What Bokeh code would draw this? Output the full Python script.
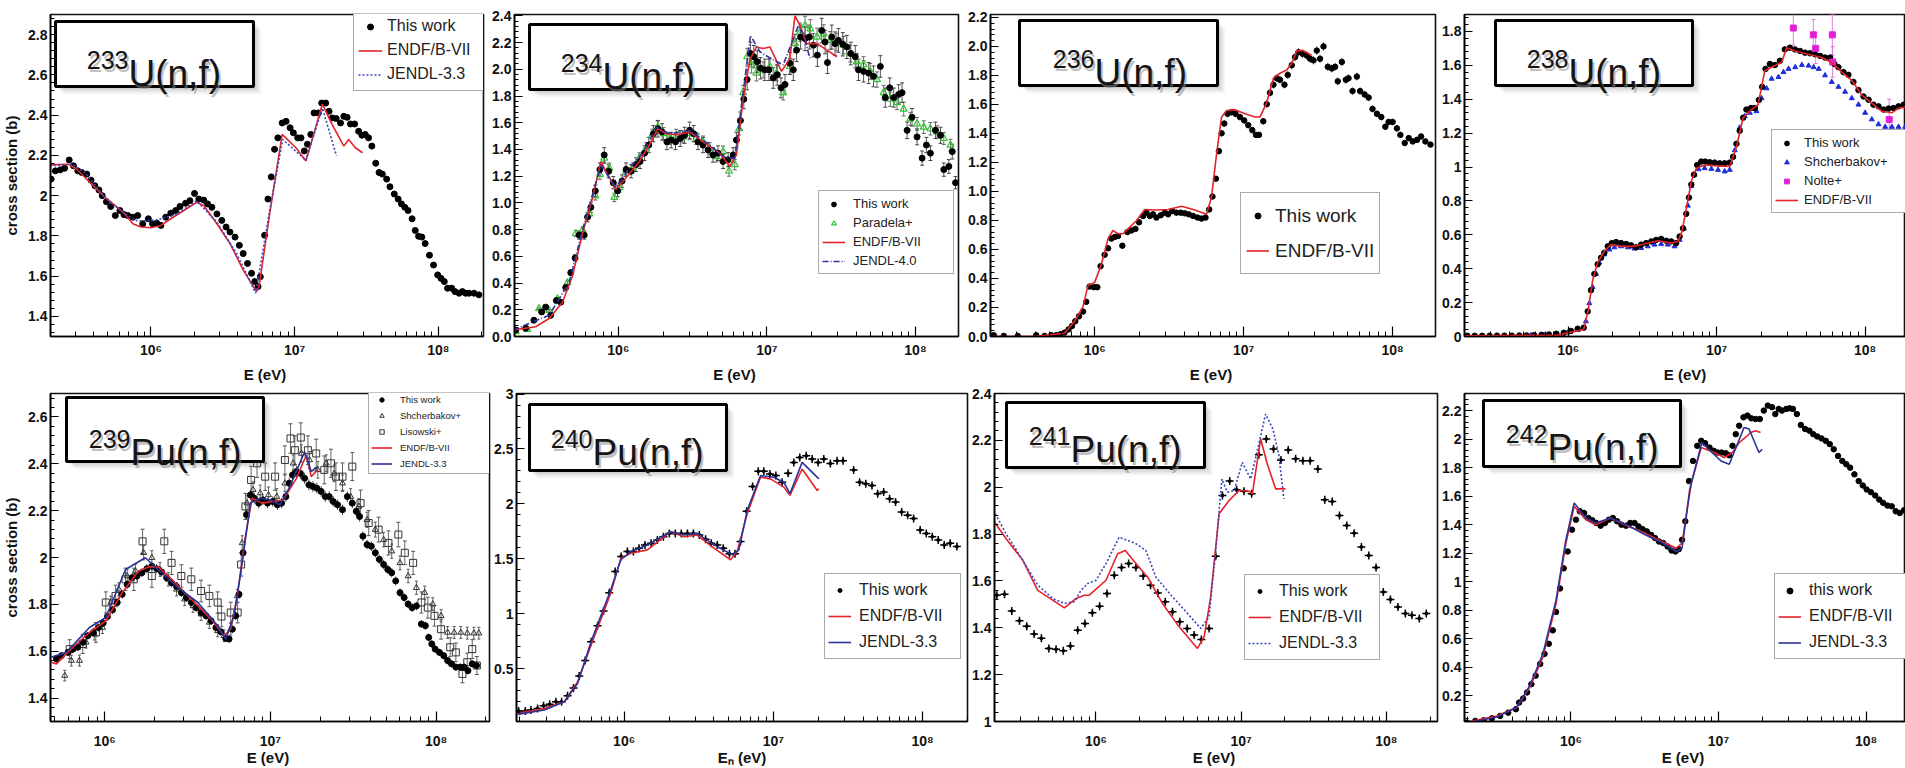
import numpy as np
from bokeh.plotting import figure
from bokeh.models import (ColumnDataSource, Range1d, FixedTicker, CustomJSTickFormatter,
                          Legend, LegendItem, BoxAnnotation, Label, Whisker, TeeHead)
from bokeh.layouts import row, column
from bokeh.embed import file_html
from bokeh.resources import INLINE

# ---------------- data: log10(E / eV) and cross sections (barn) ----------------
# 233U(n,f)
u233_lg = [5.305,5.335,5.369,5.399,5.431,5.461,5.491,5.518,5.553,5.583,5.610,5.638,5.661,5.690,5.720,5.752,5.784,5.812,5.839,5.874,
           5.908,5.943,5.982,6.011,6.041,6.069,6.103,6.138,6.172,6.202,6.241,6.271,6.303,6.333,6.367,6.394,6.424,6.459,6.493,6.523,
           6.550,6.585,6.615,6.642,6.672,6.700,6.722,6.745,6.761,6.791,6.814,6.837,6.860,6.883,6.913,6.940,6.968,6.991,7.021,7.044,
           7.067,7.089,7.112,7.135,7.165,7.188,7.216,7.239,7.261,7.289,7.319,7.342,7.365,7.388,7.417,7.445,7.468,7.491,7.514,7.537,
           7.564,7.587,7.610,7.640,7.663,7.693,7.720,7.743,7.766,7.789,7.817,7.839,7.862,7.885,7.908,7.938,7.966,7.995,8.018,8.041,
           8.064,8.092,8.115,8.144,8.167,8.190,8.213,8.248,8.282]
u233_xs = [2.082,2.123,2.128,2.136,2.177,2.148,2.123,2.115,2.107,2.077,2.049,2.028,2.000,1.970,1.946,1.901,1.926,1.906,1.901,1.893,
           1.901,1.860,1.885,1.860,1.863,1.852,1.893,1.913,1.926,1.946,1.962,1.975,2.011,1.983,1.978,1.959,1.942,1.909,1.877,1.844,
           1.819,1.794,1.753,1.712,1.663,1.614,1.573,1.548,1.597,1.803,1.983,2.093,2.230,2.287,2.361,2.369,2.337,2.312,2.287,2.287,
           2.222,2.255,2.304,2.411,2.411,2.460,2.460,2.419,2.386,2.383,2.361,2.394,2.389,2.356,2.356,2.320,2.300,2.304,2.287,2.246,
           2.161,2.115,2.107,2.082,2.044,2.008,1.983,1.959,1.942,1.926,1.885,1.827,1.798,1.794,1.762,1.704,1.655,1.606,1.589,1.573,
           1.540,1.540,1.523,1.515,1.523,1.515,1.515,1.515,1.507]
u233_endf_lg = [5.296,5.427,5.484,5.541,5.610,5.679,5.748,5.817,5.874,5.931,6.000,6.069,6.138,6.229,6.317,6.367,6.459,6.550,6.642,6.734,
                6.752,6.826,6.913,7.009,7.078,7.193,7.261,7.342,7.376,7.422,7.472]
u233_endf_xs = [2.153,2.156,2.131,2.090,2.041,1.992,1.951,1.910,1.860,1.844,1.840,1.852,1.885,1.926,1.967,1.951,1.860,1.762,1.630,1.523,
                1.548,1.909,2.304,2.238,2.172,2.455,2.353,2.246,2.279,2.238,2.213]
u233_jendl_lg = [5.296,5.450,5.541,5.679,5.817,5.908,6.046,6.183,6.317,6.459,6.596,6.729,6.826,6.917,7.078,7.193,7.291]
u233_jendl_xs = [2.148,2.156,2.115,1.992,1.910,1.873,1.880,1.909,1.975,1.868,1.712,1.515,1.926,2.279,2.176,2.435,2.197]

# 234U(n,f)
u234_lg = [5.309,5.376,5.432,5.484,5.511,5.545,5.583,5.613,5.646,5.680,5.709,5.736,5.770,5.793,5.815,5.845,5.876,5.905,5.935,5.966,
           5.995,6.025,6.052,6.086,6.119,6.146,6.176,6.205,6.236,6.266,6.295,6.327,6.356,6.385,6.417,6.446,6.480,6.507,6.536,6.570,
           6.604,6.637,6.671,6.705,6.739,6.773,6.795,6.822,6.845,6.867,6.890,6.912,6.935,6.957,6.986,7.014,7.043,7.070,7.095,7.122,
           7.155,7.178,7.200,7.227,7.257,7.286,7.313,7.340,7.369,7.392,7.408,7.437,7.459,7.482,7.511,7.538,7.565,7.595,7.617,7.651,
           7.685,7.718,7.764,7.797,7.827,7.854,7.887,7.910,7.944,7.977,8.011,8.045,8.074,8.101,8.135,8.169,8.191,8.225,8.248,8.270]
u234_xs = [0.049,0.061,0.122,0.184,0.220,0.159,0.269,0.257,0.367,0.478,0.588,0.759,0.759,0.894,0.967,1.090,1.249,1.359,1.237,1.151,
           1.090,1.163,1.249,1.237,1.286,1.310,1.372,1.433,1.518,1.555,1.531,1.457,1.470,1.457,1.482,1.506,1.543,1.518,1.457,1.433,
           1.396,1.359,1.372,1.310,1.323,1.359,1.470,1.616,1.776,1.923,2.118,2.094,2.057,2.008,1.996,1.996,1.935,1.959,1.861,1.886,
           2.045,1.996,2.143,2.241,2.229,2.241,2.180,2.106,2.290,2.204,2.050,2.241,2.192,2.216,2.187,2.167,2.118,2.094,1.996,1.984,
           1.972,1.947,2.021,1.788,1.861,1.788,1.812,1.825,1.543,1.641,1.494,1.335,1.433,1.372,1.543,1.506,1.249,1.273,1.384,1.151]
u234_rel_err = 0.04
u234_par_lg = [5.309,5.388,5.466,5.534,5.590,5.658,5.714,5.759,5.804,5.845,5.876,5.905,5.939,5.973,6.007,6.052,6.097,6.142,6.187,6.227,
               6.266,6.304,6.345,6.390,6.435,6.480,6.525,6.570,6.615,6.660,6.705,6.745,6.784,6.813,6.840,6.867,6.896,6.930,6.975,7.020,
               7.065,7.110,7.155,7.189,7.223,7.257,7.293,7.338,7.383,7.426,7.471,7.516,7.561,7.606,7.651,7.696,7.741,7.786,7.831,7.876,
               7.921,7.966,8.011,8.056,8.101,8.146,8.191,8.236]
u234_par_xs = [0.037,0.054,0.208,0.196,0.282,0.404,0.771,0.796,0.918,1.053,1.212,1.335,1.261,1.041,1.114,1.237,1.261,1.335,1.408,1.506,
               1.567,1.518,1.482,1.506,1.494,1.518,1.482,1.457,1.408,1.347,1.384,1.237,1.286,1.555,1.825,2.094,2.033,1.972,1.996,2.021,
               1.972,1.825,2.021,2.192,2.278,2.327,2.302,2.241,2.265,2.216,2.204,2.180,2.118,2.057,2.033,1.984,1.923,1.825,1.776,1.751,
               1.702,1.629,1.592,1.567,1.555,1.531,1.482,1.433]
u234_par_rel_err = 0.03
u234_endf_lg = [5.293,5.444,5.534,5.624,5.691,5.759,5.827,5.883,5.921,5.984,6.052,6.142,6.209,6.266,6.322,6.401,6.480,6.570,6.682,6.750,
                6.795,6.840,6.885,6.930,6.975,7.020,7.099,7.155,7.189,7.223,7.268,7.338,7.405,7.471]
u234_endf_xs = [0.049,0.073,0.135,0.257,0.453,0.771,1.041,1.310,1.225,1.102,1.188,1.310,1.433,1.555,1.518,1.511,1.531,1.457,1.372,1.274,
                1.359,1.776,2.070,2.167,2.155,2.167,1.984,2.082,2.400,2.327,2.192,2.192,2.143,2.094]
u234_jendl_lg = [5.293,5.534,5.669,5.759,5.883,5.939,5.984,6.074,6.164,6.255,6.345,6.480,6.615,6.727,6.784,6.840,6.890,6.953,7.043,7.110,
                 7.166,7.212,7.245,7.290]
u234_jendl_xs = [0.049,0.159,0.404,0.796,1.286,1.188,1.114,1.261,1.372,1.567,1.518,1.543,1.433,1.335,1.335,1.825,2.253,2.131,2.070,2.033,
                 2.192,2.327,2.265,2.082]

# 236U(n,f)
u236_lg = [5.323,5.390,5.484,5.608,5.664,5.709,5.742,5.771,5.798,5.825,5.848,5.870,5.895,5.922,5.944,5.966,5.996,6.018,6.040,6.067,
           6.090,6.112,6.135,6.157,6.186,6.220,6.247,6.274,6.298,6.325,6.348,6.370,6.392,6.415,6.444,6.471,6.493,6.520,6.549,6.578,
           6.605,6.632,6.661,6.691,6.717,6.744,6.769,6.791,6.814,6.834,6.852,6.870,6.892,6.919,6.946,6.975,7.004,7.031,7.058,7.083,
           7.103,7.132,7.155,7.177,7.200,7.222,7.244,7.274,7.296,7.323,7.345,7.368,7.395,7.424,7.446,7.469,7.491,7.513,7.536,7.565,
           7.592,7.614,7.632,7.659,7.686,7.704,7.731,7.760,7.782,7.812,7.839,7.865,7.895,7.924,7.951,7.973,8.000,8.029,8.052,8.081,
           8.108,8.135,8.164,8.191,8.220,8.254]
u236_xs = [0.009,0.004,0.004,0.009,0.004,0.009,0.009,0.016,0.027,0.049,0.072,0.105,0.139,0.172,0.239,0.344,0.340,0.340,0.485,0.563,
           0.608,0.675,0.686,0.693,0.626,0.720,0.731,0.742,0.787,0.831,0.854,0.831,0.842,0.820,0.836,0.854,0.842,0.865,0.854,0.854,
           0.849,0.842,0.831,0.820,0.813,0.820,0.876,0.965,1.088,1.278,1.401,1.468,1.535,1.546,1.535,1.513,1.490,1.457,1.423,1.390,
           1.390,1.484,1.602,1.680,1.736,1.781,1.770,1.736,1.803,1.870,1.926,1.960,1.949,1.937,1.915,1.904,1.971,1.915,2.000,1.859,
           1.848,1.859,1.759,1.893,1.770,1.781,1.692,1.792,1.692,1.669,1.647,1.569,1.535,1.513,1.446,1.479,1.479,1.435,1.390,1.334,
           1.368,1.345,1.356,1.379,1.345,1.323]
u236_rel_err = 0.015
u236_endf_lg = [5.294,5.596,5.798,5.865,5.922,5.955,6.000,6.045,6.090,6.123,6.157,6.191,6.224,6.280,6.336,6.404,6.493,6.583,6.673,6.751,
                6.785,6.818,6.852,6.886,6.942,7.009,7.076,7.110,7.155,7.200,7.244,7.289,7.323,7.357,7.401,7.457]
u236_endf_xs = [0.000,0.000,0.022,0.105,0.206,0.351,0.373,0.496,0.675,0.731,0.708,0.708,0.742,0.798,0.876,0.872,0.876,0.898,0.872,0.842,
                0.965,1.256,1.513,1.558,1.564,1.535,1.513,1.513,1.613,1.781,1.815,1.837,1.882,1.971,1.971,1.937]

# 238U(n,f)
u238_lg = [5.32,5.37,5.42,5.47,5.52,5.57,5.62,5.67,5.72,5.77,5.82,5.87,5.92,5.97,
           6.018,6.063,6.104,6.131,6.153,6.176,6.198,6.221,6.243,6.266,6.293,6.322,6.356,6.390,6.423,6.457,6.491,6.525,6.559,6.592,
           6.626,6.660,6.694,6.727,6.750,6.773,6.795,6.813,6.829,6.847,6.869,6.896,6.923,6.953,6.986,7.020,7.054,7.088,7.110,7.133,
           7.155,7.178,7.200,7.230,7.257,7.284,7.306,7.329,7.358,7.392,7.426,7.459,7.493,7.527,7.561,7.595,7.628,7.662,7.696,7.730,
           7.764,7.793,7.820,7.854,7.887,7.921,7.955,7.989,8.023,8.056,8.090,8.124,8.158,8.191,8.225,8.259]
u238_xs = [0.004,0.004,0.004,0.004,0.005,0.005,0.005,0.006,0.006,0.008,0.010,0.012,0.016,0.022,
           0.033,0.046,0.052,0.148,0.273,0.369,0.426,0.465,0.494,0.532,0.551,0.557,0.551,0.546,0.538,0.526,0.542,0.551,0.561,0.570,
           0.576,0.565,0.561,0.551,0.590,0.638,0.724,0.820,0.897,0.955,1.012,1.032,1.032,1.028,1.026,1.022,1.022,1.026,1.060,1.137,
           1.214,1.291,1.339,1.348,1.348,1.396,1.473,1.579,1.608,1.602,1.627,1.694,1.704,1.694,1.685,1.675,1.671,1.665,1.656,1.646,
           1.646,1.608,1.589,1.560,1.544,1.502,1.454,1.416,1.397,1.368,1.358,1.339,1.345,1.348,1.358,1.368]
u238_shch_lg = [5.748,5.838,5.928,5.995,6.063,6.119,6.142,6.164,6.187,6.209,6.243,6.277,6.311,6.356,6.401,6.446,6.491,6.536,6.581,6.626,
                6.671,6.716,6.750,6.779,6.806,6.829,6.851,6.878,6.919,6.964,7.009,7.054,7.088,7.122,7.155,7.189,7.223,7.268,7.302,7.336,
                7.370,7.416,7.450,7.484,7.529,7.574,7.619,7.653,7.687,7.730,7.775,7.820,7.865,7.910,7.955,8.000,8.045,8.090,8.135,8.180,
                8.225,8.270]
u238_shch_xs = [0.008,0.008,0.013,0.023,0.038,0.090,0.196,0.292,0.369,0.436,0.484,0.513,0.526,0.532,0.526,0.519,0.522,0.532,0.542,0.546,
                0.542,0.532,0.570,0.638,0.772,0.887,0.955,0.987,0.993,0.989,0.983,0.974,0.983,1.099,1.233,1.300,1.320,1.329,1.406,1.464,
                1.521,1.531,1.560,1.579,1.589,1.602,1.598,1.589,1.579,1.541,1.502,1.473,1.444,1.406,1.368,1.320,1.281,1.252,1.237,1.237,
                1.237,1.237]
u238_nolte_lg = [7.516,7.651,7.667,7.779,7.781,8.162]
u238_nolte_xs = [1.82,1.78,1.70,1.78,1.62,1.28]
u238_nolte_err = [0.10,0.09,0.09,0.12,0.09,0.12]
u238_endf_lg = [5.290,5.928,6.063,6.104,6.135,6.164,6.198,6.243,6.288,6.356,6.446,6.514,6.604,6.694,6.739,6.766,6.795,6.829,6.863,6.919,
                7.009,7.088,7.133,7.178,7.234,7.279,7.324,7.369,7.437,7.471,7.527,7.617,7.707,7.775,7.842,7.910,7.977,8.045,8.113,8.180,
                8.225,8.270]
u238_endf_xs = [0.004,0.008,0.033,0.042,0.158,0.330,0.436,0.503,0.542,0.532,0.532,0.546,0.565,0.551,0.561,0.619,0.753,0.916,0.993,1.012,
                1.007,1.003,1.118,1.291,1.339,1.368,1.569,1.589,1.617,1.704,1.685,1.665,1.646,1.617,1.560,1.512,1.425,1.377,1.329,1.320,
                1.348,1.352]

# 239Pu(n,f)
pu239_lg = [5.708,5.738,5.778,5.808,5.837,5.867,5.897,5.931,5.962,5.990,6.016,6.046,6.075,6.105,6.135,6.165,6.194,6.224,6.254,6.284,
            6.313,6.343,6.373,6.403,6.433,6.462,6.492,6.522,6.552,6.581,6.611,6.641,6.671,6.700,6.730,6.750,6.770,6.790,6.810,6.835,
            6.855,6.879,6.903,6.929,6.954,6.982,7.014,7.042,7.067,7.093,7.113,7.133,7.157,7.181,7.206,7.232,7.256,7.280,7.306,7.331,
            7.355,7.379,7.405,7.435,7.464,7.494,7.518,7.538,7.558,7.583,7.609,7.633,7.657,7.683,7.708,7.732,7.756,7.782,7.807,7.831,
            7.855,7.881,7.911,7.935,7.955,7.974,7.994,8.020,8.046,8.069,8.093,8.119,8.145,8.169,8.192,8.218,8.244]
pu239_xs = [1.567,1.581,1.595,1.609,1.617,1.638,1.666,1.680,1.701,1.720,1.748,1.776,1.808,1.843,1.885,1.914,1.921,1.935,1.952,1.963,
            1.952,1.938,1.914,1.892,1.876,1.850,1.829,1.808,1.786,1.765,1.751,1.730,1.701,1.683,1.655,1.652,1.694,1.751,1.843,2.020,
            2.183,2.267,2.253,2.232,2.246,2.232,2.239,2.225,2.232,2.260,2.317,2.352,2.367,2.359,2.338,2.310,2.303,2.296,2.282,2.260,
            2.260,2.239,2.225,2.204,2.260,2.232,2.197,2.175,2.091,2.055,2.048,2.020,1.992,1.970,1.949,1.935,1.900,1.850,1.829,1.801,
            1.786,1.793,1.716,1.709,1.659,1.631,1.609,1.595,1.581,1.560,1.546,1.532,1.532,1.532,1.517,1.546,1.539]
pu239_rel_err = 0.01
pu239_shch_lg = [5.758,5.798,5.847,5.887,5.937,5.986,6.036,6.085,6.135,6.185,6.234,6.284,6.333,6.383,6.433,6.482,6.532,6.581,6.631,6.681,
                 6.720,6.760,6.800,6.829,6.859,6.895,6.938,6.988,7.038,7.087,7.137,7.187,7.236,7.286,7.336,7.385,7.435,7.484,7.534,7.583,
                 7.633,7.683,7.732,7.782,7.831,7.881,7.931,7.980,8.030,8.069,8.109,8.149,8.188,8.228,8.258]
pu239_shch_xs = [1.496,1.560,1.560,1.638,1.673,1.701,1.808,1.864,1.921,1.942,2.020,1.999,1.949,1.907,1.864,1.822,1.793,1.758,1.723,1.687,
                 1.666,1.694,1.836,2.062,2.232,2.289,2.275,2.267,2.260,2.317,2.402,2.444,2.416,2.374,2.402,2.359,2.317,2.260,2.218,2.161,
                 2.119,2.076,2.027,1.977,1.921,1.871,1.850,1.801,1.751,1.680,1.680,1.680,1.677,1.677,1.677]
pu239_shch_rel_err = 0.015
pu239_lis_lg = [5.788,5.867,5.946,6.006,6.065,6.125,6.175,6.228,6.284,6.359,6.403,6.462,6.522,6.581,6.631,6.681,6.704,6.760,6.802,6.823,
                6.849,6.883,6.919,6.968,7.028,7.087,7.121,7.147,7.183,7.226,7.276,7.325,7.365,7.395,7.435,7.494,7.544,7.593,7.653,7.712,
                7.772,7.811,7.861,7.911,7.950,7.990,8.030,8.085,8.119,8.159,8.188,8.218,8.246]
pu239_lis_xs = [1.609,1.631,1.680,1.808,1.836,1.907,1.907,2.069,1.921,2.069,1.977,1.921,1.907,1.857,1.836,1.808,1.748,1.765,1.765,1.970,
                2.218,2.331,2.402,2.345,2.345,2.416,2.508,2.458,2.512,2.458,2.444,2.374,2.402,2.345,2.345,2.388,2.232,2.147,2.119,2.062,
                2.098,2.020,1.977,1.808,1.786,1.751,1.694,1.617,1.595,1.503,1.553,1.609,1.539]
pu239_lis_rel_err = 0.025
pu239_endf_lg = [5.675,5.708,5.808,5.907,6.006,6.105,6.204,6.264,6.323,6.403,6.522,6.641,6.720,6.760,6.800,6.849,6.889,6.948,7.018,7.077,
                 7.157,7.216,7.246,7.286]
pu239_endf_xs = [1.553,1.546,1.617,1.680,1.730,1.850,1.942,1.960,1.960,1.907,1.822,1.737,1.666,1.694,1.836,2.091,2.253,2.232,2.239,2.246,
                 2.338,2.437,2.345,2.376]
pu239_jendl_lg = [5.675,5.768,5.907,6.006,6.125,6.244,6.343,6.442,6.562,6.681,6.730,6.780,6.829,6.879,6.938,6.998,7.058,7.117,7.206,7.246,
                  7.286]
pu239_jendl_xs = [1.574,1.595,1.701,1.744,1.949,1.999,1.935,1.871,1.808,1.709,1.652,1.751,1.977,2.232,2.253,2.246,2.225,2.303,2.451,2.367,
                  2.388]

# 240Pu(n,f)
pu240_lg = [5.293,5.338,5.376,5.420,5.460,5.501,5.543,5.581,5.621,5.661,5.699,5.739,5.779,5.822,5.862,5.900,5.940,5.980,6.022,6.062,
            6.100,6.140,6.181,6.223,6.263,6.303,6.343,6.383,6.424,6.464,6.504,6.546,6.584,6.624,6.664,6.706,6.743,6.780,6.821,6.861,
            6.899,6.936,6.977,7.017,7.059,7.099,7.137,7.177,7.220,7.260,7.300,7.338,7.382,7.427,7.467,7.538,7.578,7.619,7.661,7.699,
            7.739,7.779,7.819,7.860,7.900,7.940,7.984,8.025,8.065,8.105,8.145,8.185,8.230]
pu240_xs = [0.115,0.115,0.124,0.139,0.163,0.176,0.200,0.200,0.254,0.326,0.434,0.575,0.746,0.891,1.026,1.191,1.386,1.522,1.567,1.567,
            1.597,1.627,1.642,1.672,1.702,1.732,1.732,1.732,1.732,1.732,1.717,1.678,1.642,1.627,1.597,1.546,1.546,1.657,1.933,2.159,
            2.297,2.297,2.273,2.258,2.198,2.279,2.378,2.423,2.438,2.408,2.378,2.408,2.369,2.393,2.393,2.309,2.198,2.183,2.168,2.093,
            2.108,2.047,2.017,1.927,1.897,1.867,1.762,1.732,1.702,1.672,1.627,1.642,1.612]
pu240_endf_lg = [5.287,5.465,5.599,5.688,5.777,5.866,5.911,5.978,6.045,6.156,6.312,6.401,6.490,6.602,6.713,6.758,6.825,6.914,6.981,7.070,
                 7.111,7.193,7.294,7.305]
pu240_endf_xs = [0.094,0.139,0.200,0.380,0.710,1.026,1.191,1.507,1.552,1.582,1.747,1.702,1.717,1.597,1.492,1.567,1.912,2.243,2.228,2.153,
                 2.078,2.318,2.123,2.138]
pu240_jendl_lg = [5.287,5.465,5.599,5.688,5.777,5.911,5.978,6.045,6.156,6.312,6.401,6.490,6.602,6.725,6.769,6.825,6.914,7.003,7.070,7.111,
                  7.193,7.305]
pu240_jendl_xs = [0.085,0.124,0.200,0.365,0.740,1.221,1.492,1.567,1.627,1.747,1.717,1.732,1.627,1.537,1.582,1.942,2.258,2.243,2.198,2.093,
                  2.378,2.228]

# 241Pu(n,f)
pu241_lg = [5.317,5.370,5.420,5.473,5.523,5.574,5.624,5.675,5.725,5.775,5.824,5.874,5.924,5.975,6.025,6.076,6.126,6.176,6.225,6.275,
            6.325,6.376,6.426,6.477,6.527,6.577,6.628,6.676,6.726,6.779,6.825,6.871,6.921,6.969,7.019,7.072,7.122,7.173,7.223,7.274,
            7.324,7.375,7.425,7.475,7.528,7.576,7.627,7.677,7.727,7.778,7.828,7.879,7.929,7.979,8.028,8.080,8.131,8.176,8.227,8.275]
pu241_xs = [1.539,1.543,1.472,1.430,1.407,1.373,1.355,1.312,1.308,1.302,1.322,1.390,1.418,1.464,1.492,1.546,1.624,1.657,1.674,1.657,
            1.621,1.582,1.549,1.511,1.468,1.426,1.397,1.369,1.350,1.397,1.705,1.965,2.026,1.989,1.983,1.972,2.139,2.206,2.163,2.116,
            2.159,2.121,2.113,2.113,2.078,1.946,1.939,1.879,1.837,1.804,1.745,1.709,1.657,1.553,1.521,1.489,1.461,1.454,1.440,1.461]
pu241_endf_lg = [5.294,5.381,5.496,5.599,5.702,5.782,5.863,5.920,5.954,6.069,6.149,6.202,6.275,6.355,6.458,6.573,6.699,6.745,6.790,6.848,
                 6.916,6.985,7.054,7.077,7.134,7.180,7.237,7.306]
pu241_endf_xs = [1.858,1.780,1.688,1.560,1.518,1.485,1.525,1.539,1.539,1.603,1.716,1.730,1.674,1.617,1.504,1.404,1.312,1.362,1.532,1.887,
                 1.943,1.986,1.983,1.972,2.206,2.099,1.993,1.993]
pu241_jendl_lg = [5.294,5.381,5.496,5.599,5.702,5.782,5.851,5.897,5.943,6.000,6.069,6.160,6.275,6.344,6.412,6.527,6.641,6.722,6.779,6.825,
                  6.867,6.905,6.951,7.008,7.065,7.111,7.168,7.219,7.260,7.294]
pu241_jendl_xs = [1.901,1.801,1.688,1.582,1.525,1.504,1.511,1.560,1.589,1.603,1.674,1.787,1.759,1.730,1.617,1.532,1.454,1.397,1.447,1.730,
                  2.035,1.979,1.986,2.106,2.035,2.156,2.312,2.248,2.135,1.950]

# 242Pu(n,f)
pu242_lg = [5.296,5.352,5.408,5.464,5.520,5.575,5.627,5.649,5.676,5.703,5.732,5.761,5.792,5.821,5.850,5.877,5.899,5.926,5.951,5.978,
            6.007,6.034,6.060,6.089,6.118,6.145,6.172,6.201,6.230,6.257,6.284,6.313,6.342,6.373,6.402,6.431,6.458,6.485,6.514,6.543,
            6.570,6.597,6.626,6.655,6.682,6.708,6.731,6.753,6.775,6.800,6.827,6.856,6.883,6.909,6.939,6.968,6.994,7.021,7.050,7.073,
            7.095,7.117,7.140,7.169,7.196,7.222,7.251,7.280,7.307,7.334,7.363,7.385,7.408,7.430,7.459,7.482,7.504,7.531,7.558,7.587,
            7.616,7.642,7.669,7.698,7.727,7.754,7.781,7.810,7.839,7.866,7.892,7.921,7.950,7.978,8.004,8.033,8.062,8.089,8.116,8.145,
            8.174,8.201,8.228,8.257]
pu242_xs = [0.012,0.024,0.028,0.042,0.059,0.082,0.106,0.153,0.181,0.224,0.282,0.341,0.424,0.494,0.565,0.659,0.788,0.953,1.094,1.212,
            1.365,1.435,1.494,1.482,1.447,1.431,1.412,1.393,1.412,1.435,1.447,1.424,1.400,1.393,1.412,1.412,1.388,1.369,1.353,1.329,
            1.306,1.282,1.271,1.247,1.219,1.212,1.228,1.294,1.424,1.706,1.847,1.953,1.988,1.972,1.941,1.918,1.906,1.906,1.901,1.887,
            1.953,2.035,2.094,2.153,2.165,2.146,2.141,2.141,2.200,2.235,2.224,2.176,2.212,2.200,2.212,2.216,2.212,2.176,2.099,2.071,
            2.059,2.035,2.019,2.005,1.988,1.965,1.929,1.882,1.847,1.824,1.800,1.753,1.706,1.675,1.647,1.628,1.605,1.576,1.553,1.534,
            1.529,1.494,1.482,1.501]
pu242_endf_lg = [5.280,5.497,5.631,5.721,5.810,5.899,5.966,6.022,6.101,6.168,6.268,6.391,6.503,6.615,6.715,6.753,6.816,6.883,6.972,7.039,
                 7.095,7.140,7.196,7.218,7.251,7.285]
pu242_endf_xs = [0.012,0.059,0.118,0.259,0.471,0.847,1.271,1.529,1.435,1.400,1.447,1.388,1.341,1.282,1.235,1.271,1.694,1.941,1.906,1.871,
                 1.906,1.976,2.024,2.047,2.059,2.047]
pu242_jendl_lg = [5.280,5.497,5.631,5.721,5.810,5.899,5.966,6.022,6.101,6.168,6.268,6.391,6.503,6.615,6.715,6.753,6.805,6.887,7.017,7.073,
                  7.173,7.207,7.274,7.296]
pu242_jendl_xs = [0.005,0.052,0.118,0.271,0.494,0.871,1.294,1.553,1.447,1.412,1.447,1.393,1.329,1.275,1.212,1.235,1.647,1.976,1.847,1.824,
                  2.082,2.071,1.906,1.929]

# ---------------- styling ----------------
FONT = "Liberation Sans"
RED = "#e3242b"
BLUE = "#2a3399"
DBLUE = "#3646c0"
GREEN = "#2fc42f"
MAGENTA = "#e21fd6"

X_MINOR = [m * 10.0 ** e for e in (5, 6, 7, 8) for m in range(2, 10)]


def E(lg):
    return [10.0 ** v for v in lg]


def x_formatter():
    return CustomJSTickFormatter(code="""
const sup = {"5": "\u2075", "6": "\u2076", "7": "\u2077", "8": "\u2078", "9": "\u2079"};
const e = Math.round(Math.log10(tick));
return "10" + sup[String(e)];
""")


def y_formatter(dec, trim):
    return CustomJSTickFormatter(args=dict(d=dec, trim=trim), code="""
const s = tick.toFixed(d);
return trim ? String(parseFloat(s)) : s;
""")


def base(w, h, bl, br, bt, bb, xr, yr, ymaj, ystep, ydec, ytrim, yminor, xlabel, ylabel, top_row):
    p = figure(width=w, height=h, x_axis_type="log", x_range=Range1d(*xr), y_range=Range1d(*yr),
               output_backend="svg", toolbar_location=None,
               min_border_left=bl, min_border_right=br, min_border_top=bt, min_border_bottom=bb)
    p.xgrid.visible = False
    p.ygrid.visible = False
    p.background_fill_color = "white"
    p.border_fill_color = "white"
    p.outline_line_color = "#111111"
    p.outline_line_width = 1.6
    p.outline_line_alpha = 1.0

    xa = p.xaxis[0]
    xa.ticker = FixedTicker(ticks=[1e5, 1e6, 1e7, 1e8, 1e9], minor_ticks=X_MINOR)
    xa.formatter = x_formatter()
    xa.major_tick_in = 10
    xa.major_tick_out = 0
    xa.minor_tick_in = 5
    xa.minor_tick_out = 0
    xa.axis_line_width = 1.6
    xa.major_tick_line_width = 1.2
    xa.minor_tick_line_width = 1.0
    xa.major_label_text_font = FONT
    xa.major_label_text_font_size = "14px"
    xa.major_label_text_font_style = "bold"
    xa.major_label_text_color = "#111111"
    xa.major_label_standoff = 5 if top_row else 11
    xa.axis_label = xlabel
    xa.axis_label_text_font = FONT
    xa.axis_label_text_font_size = "15px"
    xa.axis_label_text_font_style = "bold"
    xa.axis_label_text_color = "#111111"
    xa.axis_label_standoff = 5 if top_row else -3

    ya = p.yaxis[0]
    n = int(round((ymaj[1] - ymaj[0]) / ystep))
    ticks = [round(ymaj[0] + i * ystep, 4) for i in range(n + 1)]
    m = int(round((yr[1] - yr[0]) / yminor)) + 2
    mstart = np.floor(yr[0] / yminor) * yminor
    minors = [round(mstart + i * yminor, 4) for i in range(m + 1)]
    ya.ticker = FixedTicker(ticks=ticks, minor_ticks=minors)
    ya.formatter = y_formatter(ydec, ytrim)
    ya.major_tick_in = 8
    ya.major_tick_out = 0
    ya.minor_tick_in = 4
    ya.minor_tick_out = 0
    ya.axis_line_width = 1.6
    ya.major_tick_line_width = 1.2
    ya.minor_tick_line_width = 1.0
    ya.major_label_text_font = FONT
    ya.major_label_text_font_size = "14px"
    ya.major_label_text_font_style = "bold"
    ya.major_label_text_color = "#111111"
    ya.major_label_standoff = 3
    if ylabel:
        ya.axis_label = ylabel
        ya.axis_label_text_font = FONT
        ya.axis_label_text_font_size = "15px"
        ya.axis_label_text_font_style = "bold"
        ya.axis_label_text_color = "#111111"
        ya.axis_label_standoff = 5
    return p


def points(p, lg, xs, marker="circle", size=6, color="black", fill=None, lw=1.0):
    src = ColumnDataSource(dict(x=E(lg), y=list(xs)))
    return p.scatter("x", "y", source=src, marker=marker, size=size, line_color=color,
                     fill_color=color if fill is None else fill, fill_alpha=1.0 if fill is None else 0.0,
                     line_width=lw)


def curve(p, lg, xs, color, dash="solid", lw=1.6):
    src = ColumnDataSource(dict(x=E(lg), y=list(xs)))
    return p.line("x", "y", source=src, line_color=color, line_dash=dash, line_width=lw)


def errbars(p, lg, xs, err, color="#555555", cap=0):
    if isinstance(err, (int, float)):
        lo = [v * (1 - err) for v in xs]
        hi = [v * (1 + err) for v in xs]
    else:
        lo = [v - e for v, e in zip(xs, err)]
        hi = [v + e for v, e in zip(xs, err)]
    src = ColumnDataSource(dict(base=E(lg), lower=lo, upper=hi))
    head_u = TeeHead(size=cap, line_color=color, line_width=1) if cap else None
    head_l = TeeHead(size=cap, line_color=color, line_width=1) if cap else None
    p.add_layout(Whisker(source=src, base="base", lower="lower", upper="upper", line_color=color,
                         line_width=1, line_alpha=0.9, upper_head=head_u, lower_head=head_l))


def add_legend(p, items, x, y, font, item_h, pad, gw, standoff, lw, gh=None):
    leg = Legend(items=[LegendItem(label=t, renderers=[r]) for t, r in items],
                 location=(x, y), orientation="vertical", margin=0, padding=pad, spacing=0,
                 label_text_font=FONT, label_text_font_size=font, label_text_color="#222222",
                 label_height=item_h, glyph_height=item_h if gh is None else gh, glyph_width=gw,
                 label_standoff=standoff,
                 label_width=lw, border_line_color="#555555", border_line_width=1.2,
                 background_fill_color="white", background_fill_alpha=1.0)
    p.add_layout(leg)


def add_title(p, box, sup, main, s, b):
    L, R, B, T = box
    for k, a in ((8, 0.06), (6, 0.09), (4, 0.12), (2, 0.15)):
        p.add_layout(BoxAnnotation(left=L + k, right=R + k, bottom=B - k, top=T - k,
                                   left_units="screen", right_units="screen",
                                   bottom_units="screen", top_units="screen",
                                   fill_color="#6a6a6a", fill_alpha=a, line_alpha=0))
    p.add_layout(BoxAnnotation(left=L, right=R, bottom=B, top=T,
                               left_units="screen", right_units="screen",
                               bottom_units="screen", top_units="screen",
                               fill_color="white", fill_alpha=1.0, line_color="black",
                               line_alpha=1.0, line_width=3))
    xm = L + s + 42
    for dx, dy, col, al in ((2, -3, "#8a8a8a", 0.55), (0, 0, "#151515", 1.0)):
        p.add_layout(Label(x=xm + dx, y=B + b + 14 + dy, x_units="screen", y_units="screen", text=sup,
                           text_font=FONT, text_font_size="25px", text_align="right",
                           text_baseline="alphabetic", text_color=col, text_alpha=al))
        p.add_layout(Label(x=xm + dx, y=B + b + dy, x_units="screen", y_units="screen", text=main,
                           text_font=FONT, text_font_size="37px", text_align="left",
                           text_baseline="alphabetic", text_color=col, text_alpha=al))


# ---------------- panel 1: 233U ----------------
p1 = base(485, 385, 44, 2, 14, 45, (2e5, 2.06e8), (1.3, 2.9), (1.4, 2.8), 0.2, 1, True, 0.04,
          "E  (eV)", "cross section (b)", True)
r1 = points(p1, u233_lg, u233_xs, size=6)
l1a = curve(p1, u233_endf_lg, u233_endf_xs, RED)
l1b = curve(p1, u233_jendl_lg, u233_jendl_xs, DBLUE, dash="2 2")
add_legend(p1, [("This work", r1), ("ENDF/B-VII", l1a), ("JENDL-3.3", l1b)], 303, 245, "16px", 24, 4, 24, 5, 98, gh=15)
add_title(p1, (5, 203, 250, 315), "233", "U(n,f)", 31, 13)

# ---------------- panel 2: 234U ----------------
p2 = base(475, 385, 29, 2, 10, 48, (2e5, 1.95e8), (0.0, 2.41), (0.0, 2.4), 0.2, 1, False, 0.04,
          "E  (eV)", None, True)
errbars(p2, u234_par_lg, u234_par_xs, u234_par_rel_err, "#666666", 4)
errbars(p2, u234_lg, u234_xs, u234_rel_err, "#444444", 4)
r2b = points(p2, u234_par_lg, u234_par_xs, marker="triangle", size=7, color=GREEN, fill="white", lw=1.2)
r2a = points(p2, u234_lg, u234_xs, size=6)
l2a = curve(p2, u234_endf_lg, u234_endf_xs, RED)
l2b = curve(p2, u234_jendl_lg, u234_jendl_xs, BLUE, dash="6 2 1 2")
add_legend(p2, [("This work", r2a), ("Paradela+", r2b), ("ENDF/B-VII", l2a), ("JENDL-4.0", l2b)],
           304, 62, "13px", 19, 3, 23, 8, 97, gh=12)
add_title(p2, (15, 212, 247, 312), "234", "U(n,f)", 31, 13)

# ---------------- panel 3: 236U ----------------
p3 = base(477, 385, 30, 2, 12, 45, (2e5, 1.94e8), (0.0, 2.22), (0.0, 2.2), 0.2, 1, False, 0.04,
          "E  (eV)", None, True)
errbars(p3, u236_lg, u236_xs, u236_rel_err, "#555555", 0)
r3 = points(p3, u236_lg, u236_xs, size=5.5)
l3a = curve(p3, u236_endf_lg, u236_endf_xs, RED)
add_legend(p3, [("This work", r3), ("ENDF/B-VII", l3a)], 250, 62, "19px", 35, 5, 23, 6, 94, gh=15)
add_title(p3, (29, 227, 251, 316), "236", "U(n,f)", 33, 13)

# ---------------- panel 4: 238U ----------------
p4 = base(468, 385, 27, 0, 10, 45, (2e5, 1.87e8), (0.0, 1.9), (0.0, 1.8), 0.2, 1, True, 0.04,
          "E (eV)", None, True)
errbars(p4, u238_nolte_lg, u238_nolte_xs, u238_nolte_err, "#e070e0", 4)
r4b = points(p4, u238_shch_lg, u238_shch_xs, marker="triangle", size=5, color="#1c2fd8")
r4a = points(p4, u238_lg, u238_xs, size=5.5)
r4c = points(p4, u238_nolte_lg, u238_nolte_xs, marker="square", size=6, color=MAGENTA)
l4a = curve(p4, u238_endf_lg, u238_endf_xs, RED)
add_legend(p4, [("This work", r4a), ("Shcherbakov+", r4b), ("Nolte+", r4c), ("ENDF/B-VII", l4a)],
           307, 123, "13px", 19, 3, 23, 6, 99, gh=12)
add_title(p4, (31, 228, 251, 316), "238", "U(n,f)", 31, 13)

# ---------------- panel 5: 239Pu ----------------
p5 = base(491, 383, 44, 2, 8, 44, (4.7e5, 2.1e8), (1.3, 2.7), (1.4, 2.6), 0.2, 1, True, 0.04,
          "E  (eV)", "cross section (b)", False)
errbars(p5, pu239_lis_lg, pu239_lis_xs, pu239_lis_rel_err, "#555555", 4)
errbars(p5, pu239_shch_lg, pu239_shch_xs, pu239_shch_rel_err, "#555555", 3)
errbars(p5, pu239_lg, pu239_xs, pu239_rel_err, "#333333", 0)
r5b = points(p5, pu239_shch_lg, pu239_shch_xs, marker="triangle", size=6, color="#333333", fill="white", lw=1.0)
r5c = points(p5, pu239_lis_lg, pu239_lis_xs, marker="square", size=7, color="#333333", fill="white", lw=1.0)
r5a = points(p5, pu239_lg, pu239_xs, size=6)
l5a = curve(p5, pu239_endf_lg, pu239_endf_xs, RED)
l5b = curve(p5, pu239_jendl_lg, pu239_jendl_xs, BLUE)
add_legend(p5, [("This work", r5a), ("Shcherbakov+", r5b), ("Lisowski+", r5c), ("ENDF/B-VII", l5a),
                ("JENDL-3.3", l5b)], 318, 247, "9.5px", 16, 2, 21, 8, 91, gh=11)
add_title(p5, (16, 213, 260, 324), "239", "Pu(n,f)", 22, 9)

# ---------------- panel 6: 240Pu ----------------
p6 = base(478, 383, 25, 2, 8, 43, (1.9e5, 2e8), (0.02, 3.005), (0.5, 3.0), 0.5, 1, True, 0.1,
          "E\u2099 (eV)", None, False)
points(p6, pu240_lg, pu240_xs, marker="cross", size=8, lw=1.5)
r6 = points(p6, pu240_lg, pu240_xs, size=3)
l6a = curve(p6, pu240_endf_lg, pu240_endf_xs, RED)
l6b = curve(p6, pu240_jendl_lg, pu240_jendl_xs, BLUE)
add_legend(p6, [("This work", r6), ("ENDF/B-VII", l6a), ("JENDL-3.3", l6b)], 308, 62, "16px", 26, 3, 23, 8, 98, gh=10)
add_title(p6, (13, 210, 251, 317), "240", "Pu(n,f)", 21, 18)

# ---------------- panel 7: 241Pu ----------------
p7 = base(470, 383, 23, 2, 8, 45, (2e5, 2.25e8), (1.0, 2.4), (1.0, 2.4), 0.2, 1, True, 0.04,
          "E  (eV)", None, False)
points(p7, pu241_lg, pu241_xs, marker="cross", size=8, lw=1.5)
r7 = points(p7, pu241_lg, pu241_xs, size=3)
l7a = curve(p7, pu241_endf_lg, pu241_endf_xs, RED)
l7b = curve(p7, pu241_jendl_lg, pu241_jendl_xs, DBLUE, dash="2 2")
add_legend(p7, [("This work", r7), ("ENDF/B-VII", l7a), ("JENDL-3.3", l7b)], 250, 61, "16px", 26, 3, 23, 8, 97, gh=10)
add_title(p7, (12, 210, 254, 319), "241", "Pu(n,f)", 22, 18)

# ---------------- panel 8: 242Pu ----------------
p8 = base(466, 383, 20, 0, 8, 43, (1.9e5, 1.85e8), (0.02, 2.32), (0.2, 2.2), 0.2, 1, True, 0.04,
          "E  (eV)", None, False)
r8 = points(p8, pu242_lg, pu242_xs, size=5.5)
l8a = curve(p8, pu242_endf_lg, pu242_endf_xs, RED)
l8b = curve(p8, pu242_jendl_lg, pu242_jendl_xs, BLUE)
add_legend(p8, [("this work", r8), ("ENDF/B-VII", l8a), ("JENDL-3.3", l8b)], 310, 62, "16px", 26, 3, 23, 8, 99, gh=15)
add_title(p8, (19, 216, 255, 321), "242", "Pu(n,f)", 22, 19)

layout = column(row(p1, p2, p3, p4), row(p5, p6, p7, p8))

open("out.html", "w", encoding="utf-8").write(file_html(layout, INLINE))
